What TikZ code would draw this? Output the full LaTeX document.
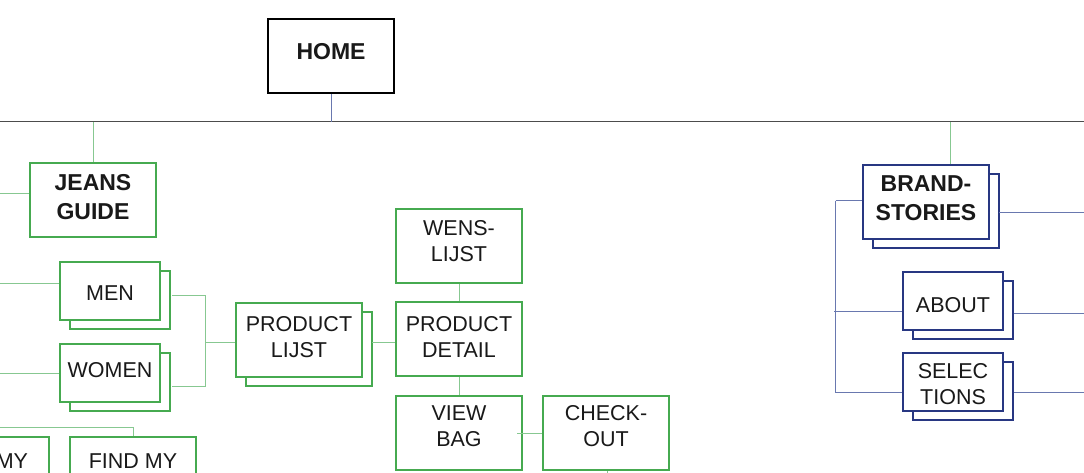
\documentclass[tikz,border=0pt]{standalone}
\usepackage{fontspec}
\setmainfont{Liberation Sans}
\usetikzlibrary{shadows}
\definecolor{grn}{RGB}{70,170,80}
\definecolor{lgrn}{RGB}{135,200,145}
\definecolor{navy}{RGB}{40,55,130}
\definecolor{lnavy}{RGB}{105,120,175}
\definecolor{ink}{RGB}{25,25,25}
\tikzset{
box/.style={draw=grn,line width=2pt,fill=white,text=ink,align=center,inner sep=0pt,text depth=0pt,
  minimum width=126pt,minimum height=74pt,font=\fontsize{21.5}{26}\selectfont},
head/.style={box,font=\bfseries\fontsize{23}{29}\selectfont},
small/.style={box,minimum width=100pt,minimum height=58pt},
stack/.style={copy shadow={shadow xshift=10pt,shadow yshift=-9pt}},
lk/.style={draw=lgrn,line width=1.2pt},
nv/.style={draw=lnavy,line width=1.2pt},
}
\begin{document}
\begin{tikzpicture}[x=1pt,y=-1pt]
\useasboundingbox(0,0)rectangle(1084,472);
\node[head,draw=black,text height=7.8pt](home)at(331,56){HOME};
\node[head,text height=39.8pt](jeans)at(93,200){JEANS\\GUIDE};
\node[small,stack,text height=18.2pt](men)at(110,291){MEN};
\node[small,stack,text height=8.8pt](women)at(110,373){WOMEN};
\node[box,stack,text height=34.8pt](plijst)at(299,340){PRODUCT\\LIJST};
\node[box,text height=30.8pt](wens)at(459,246){WENS-\\LIJST};
\node[box,text height=36.8pt](pdetail)at(459,339){PRODUCT\\DETAIL};
\node[box,text height=26.8pt](bag)at(459,433){VIEW\\BAG};
\node[box,text height=26.8pt](checkout)at(606,433){CHECK-\\OUT};
\node[box,text height=0pt,text depth=11.4pt](findmy)at(133,474){FIND MY};
\node[box,text height=0pt,text depth=11.4pt,text width=84pt,align=right](leftmy)at(-14,474){MY};
\node[head,draw=navy,stack,text height=37.8pt](brand)at(926,202){BRAND-\\STORIES};
\node[small,draw=navy,stack,text height=22.8pt](about)at(953,301){ABOUT};
\node[small,draw=navy,stack,text height=44.8pt](select)at(953,382){SELEC\\TIONS};
\coordinate(hl)at(0,121.5);
\coordinate(hr)at(1084,121.5);
\path[draw=black!70,line width=1.2pt](hl)--(hr);
\path[nv]([xshift=.5pt]home.south)--([xshift=.5pt]home.south|-hl);
\path[lk]([xshift=.5pt]jeans.north)--([xshift=.5pt]jeans.north|-hl);
\path[lk]([xshift=24.5pt]brand.north)--([xshift=24.5pt]brand.north|-hl);
\coordinate(jl)at(0,193.5);
\coordinate(ml)at(0,283.5);
\coordinate(wl)at(0,373.5);
\coordinate(fl)at(0,427.5);
\coordinate(pj)at(205.5,342.5);
\path[lk](jl)--(jl-|jeans.west);
\path[lk](ml)--(ml-|men.west);
\path[lk](wl)--(wl-|women.west);
\path[lk]([shift={(11,4.5)}]men.east)-|(pj)|-([shift={(11,13.5)}]women.east);
\path[lk](pj)--(pj-|plijst.west);
\path[lk]([xshift=9pt]pj-|plijst.east)--(pj-|pdetail.west);
\path[lk]([xshift=.5pt]wens.south)--([xshift=.5pt]pdetail.north);
\path[lk]([xshift=.5pt]pdetail.south)--([xshift=.5pt]bag.north);
\path[lk]([shift={(-6,.5)}]bag.east)--([yshift=-.5pt]checkout.west);
\path[lk]([xshift=1.5pt]checkout.south)--++(0,6);
\path[lk](fl)-|([xshift=.5pt]findmy.north);
\coordinate(bk)at(835.5,200.5);
\path[nv](bk)--(bk-|brand.west);
\path[nv](bk)|-([yshift=-10.5pt]select.west);
\path[nv]([yshift=-10.5pt]about.west)--++(-68,0);
\path[nv]([shift={(9,10.5)}]brand.east)--++(100,0);
\path[nv]([shift={(10,12.5)}]about.east)--++(80,0);
\path[nv]([shift={(10,10.5)}]select.east)--++(80,0);
\end{tikzpicture}
\end{document}
